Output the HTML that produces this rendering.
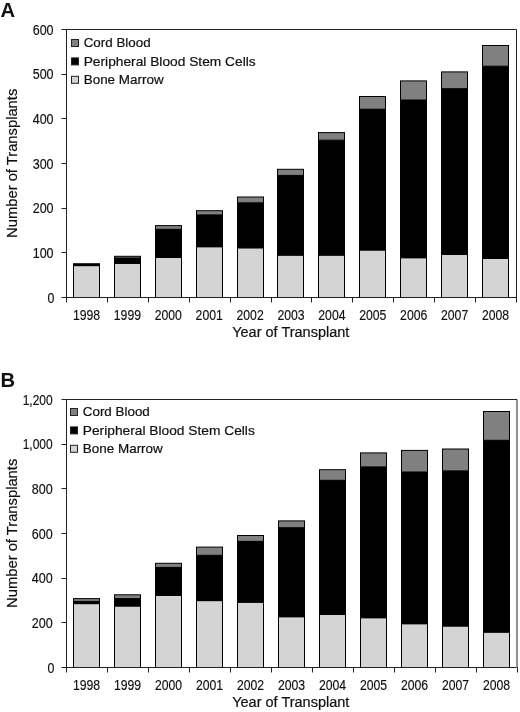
<!DOCTYPE html><html><head><meta charset="utf-8"><style>html,body{margin:0;padding:0;background:#fff;}svg{display:block;will-change:transform;}text{font-family:"Liberation Sans",sans-serif;fill:#111;}.v{stroke:#111;stroke-width:0.2px;}.n{stroke:#111;stroke-width:0.18px;}</style></head><body>
<svg width="520" height="712" viewBox="0 0 520 712">
<rect x="0" y="0" width="520" height="712" fill="#fff"/>
<text x="0.5" y="16.7" font-size="20.5" font-weight="bold" textLength="14.6" lengthAdjust="spacingAndGlyphs">A</text>
<rect x="73.5" y="265.6" width="26" height="31.90" fill="#d4d4d4" stroke="#000" stroke-width="1"/>
<rect x="73.5" y="263.75" width="26" height="1.85" fill="#000000" stroke="#000" stroke-width="1"/>
<rect x="114.5" y="263.3" width="26" height="34.20" fill="#d4d4d4" stroke="#000" stroke-width="1"/>
<rect x="114.5" y="258.0" width="26" height="5.30" fill="#000000" stroke="#000" stroke-width="1"/>
<rect x="114.5" y="256.3" width="26" height="1.70" fill="#808080" stroke="#000" stroke-width="1"/>
<rect x="155.5" y="257.5" width="26" height="40.00" fill="#d4d4d4" stroke="#000" stroke-width="1"/>
<rect x="155.5" y="229.3" width="26" height="28.20" fill="#000000" stroke="#000" stroke-width="1"/>
<rect x="155.5" y="225.6" width="26" height="3.70" fill="#808080" stroke="#000" stroke-width="1"/>
<rect x="196.5" y="246.7" width="26" height="50.80" fill="#d4d4d4" stroke="#000" stroke-width="1"/>
<rect x="196.5" y="214.9" width="26" height="31.80" fill="#000000" stroke="#000" stroke-width="1"/>
<rect x="196.5" y="210.7" width="26" height="4.20" fill="#808080" stroke="#000" stroke-width="1"/>
<rect x="237.5" y="247.8" width="26" height="49.70" fill="#d4d4d4" stroke="#000" stroke-width="1"/>
<rect x="237.5" y="202.8" width="26" height="45.00" fill="#000000" stroke="#000" stroke-width="1"/>
<rect x="237.5" y="197.0" width="26" height="5.80" fill="#808080" stroke="#000" stroke-width="1"/>
<rect x="277.5" y="255.1" width="26" height="42.40" fill="#d4d4d4" stroke="#000" stroke-width="1"/>
<rect x="277.5" y="175.4" width="26" height="79.70" fill="#000000" stroke="#000" stroke-width="1"/>
<rect x="277.5" y="169.3" width="26" height="6.10" fill="#808080" stroke="#000" stroke-width="1"/>
<rect x="318.5" y="255.1" width="26" height="42.40" fill="#d4d4d4" stroke="#000" stroke-width="1"/>
<rect x="318.5" y="140.2" width="26" height="114.90" fill="#000000" stroke="#000" stroke-width="1"/>
<rect x="318.5" y="132.6" width="26" height="7.60" fill="#808080" stroke="#000" stroke-width="1"/>
<rect x="359.5" y="250.0" width="26" height="47.50" fill="#d4d4d4" stroke="#000" stroke-width="1"/>
<rect x="359.5" y="109.2" width="26" height="140.80" fill="#000000" stroke="#000" stroke-width="1"/>
<rect x="359.5" y="96.5" width="26" height="12.70" fill="#808080" stroke="#000" stroke-width="1"/>
<rect x="400.5" y="257.7" width="26" height="39.80" fill="#d4d4d4" stroke="#000" stroke-width="1"/>
<rect x="400.5" y="100.0" width="26" height="157.70" fill="#000000" stroke="#000" stroke-width="1"/>
<rect x="400.5" y="80.9" width="26" height="19.10" fill="#808080" stroke="#000" stroke-width="1"/>
<rect x="441.5" y="254.4" width="26" height="43.10" fill="#d4d4d4" stroke="#000" stroke-width="1"/>
<rect x="441.5" y="88.7" width="26" height="165.70" fill="#000000" stroke="#000" stroke-width="1"/>
<rect x="441.5" y="71.9" width="26" height="16.80" fill="#808080" stroke="#000" stroke-width="1"/>
<rect x="482.5" y="258.4" width="26" height="39.10" fill="#d4d4d4" stroke="#000" stroke-width="1"/>
<rect x="482.5" y="66.2" width="26" height="192.20" fill="#000000" stroke="#000" stroke-width="1"/>
<rect x="482.5" y="45.5" width="26" height="20.70" fill="#808080" stroke="#000" stroke-width="1"/>
<path d="M66.5 29.5H516.5V297.5" fill="none" stroke="#222" stroke-width="1"/>
<path d="M66.5 29.5V297.5H516.5" fill="none" stroke="#222" stroke-width="1"/>
<path d="M61.5 297.5H66.5" stroke="#222" stroke-width="1"/>
<text x="54.5" y="302.7" class="n" font-size="15.2" text-anchor="end" textLength="6.9" lengthAdjust="spacingAndGlyphs">0</text>
<path d="M61.5 252.5H66.5" stroke="#222" stroke-width="1"/>
<text x="53.6" y="258.0" class="n" font-size="15.2" text-anchor="end" textLength="20.9" lengthAdjust="spacingAndGlyphs">100</text>
<path d="M61.5 208.5H66.5" stroke="#222" stroke-width="1"/>
<text x="53.6" y="213.4" class="n" font-size="15.2" text-anchor="end" textLength="20.9" lengthAdjust="spacingAndGlyphs">200</text>
<path d="M61.5 163.5H66.5" stroke="#222" stroke-width="1"/>
<text x="53.6" y="168.7" class="n" font-size="15.2" text-anchor="end" textLength="20.9" lengthAdjust="spacingAndGlyphs">300</text>
<path d="M61.5 118.5H66.5" stroke="#222" stroke-width="1"/>
<text x="53.6" y="124.0" class="n" font-size="15.2" text-anchor="end" textLength="20.9" lengthAdjust="spacingAndGlyphs">400</text>
<path d="M61.5 74.5H66.5" stroke="#222" stroke-width="1"/>
<text x="53.6" y="79.4" class="n" font-size="15.2" text-anchor="end" textLength="20.9" lengthAdjust="spacingAndGlyphs">500</text>
<path d="M61.5 29.5H66.5" stroke="#222" stroke-width="1"/>
<text x="53.6" y="34.7" class="n" font-size="15.2" text-anchor="end" textLength="20.9" lengthAdjust="spacingAndGlyphs">600</text>
<path d="M66.5 297V302.5" stroke="#222" stroke-width="1"/>
<path d="M107.5 297V302.5" stroke="#222" stroke-width="1"/>
<path d="M148.5 297V302.5" stroke="#222" stroke-width="1"/>
<path d="M189.5 297V302.5" stroke="#222" stroke-width="1"/>
<path d="M230.5 297V302.5" stroke="#222" stroke-width="1"/>
<path d="M271.5 297V302.5" stroke="#222" stroke-width="1"/>
<path d="M311.5 297V302.5" stroke="#222" stroke-width="1"/>
<path d="M352.5 297V302.5" stroke="#222" stroke-width="1"/>
<path d="M393.5 297V302.5" stroke="#222" stroke-width="1"/>
<path d="M434.5 297V302.5" stroke="#222" stroke-width="1"/>
<path d="M475.5 297V302.5" stroke="#222" stroke-width="1"/>
<path d="M516.5 297V302.5" stroke="#222" stroke-width="1"/>
<text x="86.5" y="320.2" class="n" font-size="15.5" text-anchor="middle" textLength="27.2" lengthAdjust="spacingAndGlyphs">1998</text>
<text x="127.4" y="320.2" class="n" font-size="15.5" text-anchor="middle" textLength="27.2" lengthAdjust="spacingAndGlyphs">1999</text>
<text x="168.3" y="320.2" class="n" font-size="15.5" text-anchor="middle" textLength="27.2" lengthAdjust="spacingAndGlyphs">2000</text>
<text x="209.2" y="320.2" class="n" font-size="15.5" text-anchor="middle" textLength="27.2" lengthAdjust="spacingAndGlyphs">2001</text>
<text x="250.1" y="320.2" class="n" font-size="15.5" text-anchor="middle" textLength="27.2" lengthAdjust="spacingAndGlyphs">2002</text>
<text x="291.0" y="320.2" class="n" font-size="15.5" text-anchor="middle" textLength="27.2" lengthAdjust="spacingAndGlyphs">2003</text>
<text x="331.9" y="320.2" class="n" font-size="15.5" text-anchor="middle" textLength="27.2" lengthAdjust="spacingAndGlyphs">2004</text>
<text x="372.8" y="320.2" class="n" font-size="15.5" text-anchor="middle" textLength="27.2" lengthAdjust="spacingAndGlyphs">2005</text>
<text x="413.7" y="320.2" class="n" font-size="15.5" text-anchor="middle" textLength="27.2" lengthAdjust="spacingAndGlyphs">2006</text>
<text x="454.6" y="320.2" class="n" font-size="15.5" text-anchor="middle" textLength="27.2" lengthAdjust="spacingAndGlyphs">2007</text>
<text x="495.5" y="320.2" class="n" font-size="15.5" text-anchor="middle" textLength="27.2" lengthAdjust="spacingAndGlyphs">2008</text>
<text x="232.2" y="336.7" class="v" font-size="13.8" textLength="117.2" lengthAdjust="spacingAndGlyphs">Year of Transplant</text>
<text transform="translate(16.8 237.9) rotate(-90)" x="0" y="0" class="v" font-size="13.8" textLength="149.2" lengthAdjust="spacingAndGlyphs">Number of Transplants</text>
<rect x="71.5" y="39.5" width="7" height="7" fill="#808080" stroke="#222" stroke-width="1"/>
<text x="83.7" y="47.1" class="v" font-size="12.8" textLength="67" lengthAdjust="spacingAndGlyphs">Cord Blood</text>
<rect x="71.5" y="57.9" width="7" height="7" fill="#000000" stroke="#222" stroke-width="1"/>
<text x="83.7" y="65.5" class="v" font-size="12.8" textLength="172" lengthAdjust="spacingAndGlyphs">Peripheral Blood Stem Cells</text>
<rect x="71.5" y="76.3" width="7" height="7" fill="#d4d4d4" stroke="#222" stroke-width="1"/>
<text x="83.7" y="83.9" class="v" font-size="12.8" textLength="80" lengthAdjust="spacingAndGlyphs">Bone Marrow</text>
<text x="0.5" y="386.7" font-size="20.5" font-weight="bold" textLength="14.6" lengthAdjust="spacingAndGlyphs">B</text>
<rect x="73.5" y="603.6" width="26" height="63.90" fill="#d4d4d4" stroke="#000" stroke-width="1"/>
<rect x="73.5" y="601.4" width="26" height="2.20" fill="#000000" stroke="#000" stroke-width="1"/>
<rect x="73.5" y="598.6" width="26" height="2.80" fill="#808080" stroke="#000" stroke-width="1"/>
<rect x="114.5" y="606.0" width="26" height="61.50" fill="#d4d4d4" stroke="#000" stroke-width="1"/>
<rect x="114.5" y="598.6" width="26" height="7.40" fill="#000000" stroke="#000" stroke-width="1"/>
<rect x="114.5" y="594.8" width="26" height="3.80" fill="#808080" stroke="#000" stroke-width="1"/>
<rect x="155.5" y="595.3" width="26" height="72.20" fill="#d4d4d4" stroke="#000" stroke-width="1"/>
<rect x="155.5" y="567.4" width="26" height="27.90" fill="#000000" stroke="#000" stroke-width="1"/>
<rect x="155.5" y="563.3" width="26" height="4.10" fill="#808080" stroke="#000" stroke-width="1"/>
<rect x="196.5" y="600.6" width="26" height="66.90" fill="#d4d4d4" stroke="#000" stroke-width="1"/>
<rect x="196.5" y="555.3" width="26" height="45.30" fill="#000000" stroke="#000" stroke-width="1"/>
<rect x="196.5" y="547.1" width="26" height="8.20" fill="#808080" stroke="#000" stroke-width="1"/>
<rect x="237.5" y="602.2" width="26" height="65.30" fill="#d4d4d4" stroke="#000" stroke-width="1"/>
<rect x="237.5" y="541.4" width="26" height="60.80" fill="#000000" stroke="#000" stroke-width="1"/>
<rect x="237.5" y="535.5" width="26" height="5.90" fill="#808080" stroke="#000" stroke-width="1"/>
<rect x="278.5" y="616.7" width="26" height="50.80" fill="#d4d4d4" stroke="#000" stroke-width="1"/>
<rect x="278.5" y="527.7" width="26" height="89.00" fill="#000000" stroke="#000" stroke-width="1"/>
<rect x="278.5" y="520.9" width="26" height="6.80" fill="#808080" stroke="#000" stroke-width="1"/>
<rect x="319.5" y="614.4" width="26" height="53.10" fill="#d4d4d4" stroke="#000" stroke-width="1"/>
<rect x="319.5" y="480.3" width="26" height="134.10" fill="#000000" stroke="#000" stroke-width="1"/>
<rect x="319.5" y="469.7" width="26" height="10.60" fill="#808080" stroke="#000" stroke-width="1"/>
<rect x="360.5" y="617.7" width="26" height="49.80" fill="#d4d4d4" stroke="#000" stroke-width="1"/>
<rect x="360.5" y="466.9" width="26" height="150.80" fill="#000000" stroke="#000" stroke-width="1"/>
<rect x="360.5" y="452.9" width="26" height="14.00" fill="#808080" stroke="#000" stroke-width="1"/>
<rect x="401.5" y="623.7" width="26" height="43.80" fill="#d4d4d4" stroke="#000" stroke-width="1"/>
<rect x="401.5" y="472.0" width="26" height="151.70" fill="#000000" stroke="#000" stroke-width="1"/>
<rect x="401.5" y="450.4" width="26" height="21.60" fill="#808080" stroke="#000" stroke-width="1"/>
<rect x="442.5" y="626.0" width="26" height="41.50" fill="#d4d4d4" stroke="#000" stroke-width="1"/>
<rect x="442.5" y="470.9" width="26" height="155.10" fill="#000000" stroke="#000" stroke-width="1"/>
<rect x="442.5" y="449.0" width="26" height="21.90" fill="#808080" stroke="#000" stroke-width="1"/>
<rect x="483.5" y="632.1" width="26" height="35.40" fill="#d4d4d4" stroke="#000" stroke-width="1"/>
<rect x="483.5" y="440.3" width="26" height="191.80" fill="#000000" stroke="#000" stroke-width="1"/>
<rect x="483.5" y="411.5" width="26" height="28.80" fill="#808080" stroke="#000" stroke-width="1"/>
<path d="M66.5 399.5H517V667.5" fill="none" stroke="#222" stroke-width="1"/>
<path d="M66.5 399.5V667.5H516.5" fill="none" stroke="#222" stroke-width="1"/>
<path d="M61.5 667.5H66.5" stroke="#222" stroke-width="1"/>
<text x="54.5" y="672.7" class="n" font-size="15.2" text-anchor="end" textLength="6.9" lengthAdjust="spacingAndGlyphs">0</text>
<path d="M61.5 622.5H66.5" stroke="#222" stroke-width="1"/>
<text x="52.7" y="628.0" class="n" font-size="15.2" text-anchor="end" textLength="20.9" lengthAdjust="spacingAndGlyphs">200</text>
<path d="M61.5 578.5H66.5" stroke="#222" stroke-width="1"/>
<text x="52.7" y="583.4" class="n" font-size="15.2" text-anchor="end" textLength="20.9" lengthAdjust="spacingAndGlyphs">400</text>
<path d="M61.5 533.5H66.5" stroke="#222" stroke-width="1"/>
<text x="52.7" y="538.7" class="n" font-size="15.2" text-anchor="end" textLength="20.9" lengthAdjust="spacingAndGlyphs">600</text>
<path d="M61.5 488.5H66.5" stroke="#222" stroke-width="1"/>
<text x="52.7" y="494.0" class="n" font-size="15.2" text-anchor="end" textLength="20.9" lengthAdjust="spacingAndGlyphs">800</text>
<path d="M61.5 444.5H66.5" stroke="#222" stroke-width="1"/>
<text x="52.7" y="449.4" class="n" font-size="15.2" text-anchor="end" textLength="30.0" lengthAdjust="spacingAndGlyphs">1,000</text>
<path d="M61.5 399.5H66.5" stroke="#222" stroke-width="1"/>
<text x="52.7" y="404.7" class="n" font-size="15.2" text-anchor="end" textLength="30.0" lengthAdjust="spacingAndGlyphs">1,200</text>
<path d="M66.5 667V672.5" stroke="#222" stroke-width="1"/>
<path d="M107.5 667V672.5" stroke="#222" stroke-width="1"/>
<path d="M148.5 667V672.5" stroke="#222" stroke-width="1"/>
<path d="M189.5 667V672.5" stroke="#222" stroke-width="1"/>
<path d="M230.5 667V672.5" stroke="#222" stroke-width="1"/>
<path d="M271.5 667V672.5" stroke="#222" stroke-width="1"/>
<path d="M312.5 667V672.5" stroke="#222" stroke-width="1"/>
<path d="M353.5 667V672.5" stroke="#222" stroke-width="1"/>
<path d="M394.5 667V672.5" stroke="#222" stroke-width="1"/>
<path d="M435.5 667V672.5" stroke="#222" stroke-width="1"/>
<path d="M476.5 667V672.5" stroke="#222" stroke-width="1"/>
<path d="M517.5 667V672.5" stroke="#222" stroke-width="1"/>
<text x="86.5" y="690.2" class="n" font-size="15.5" text-anchor="middle" textLength="27.2" lengthAdjust="spacingAndGlyphs">1998</text>
<text x="127.5" y="690.2" class="n" font-size="15.5" text-anchor="middle" textLength="27.2" lengthAdjust="spacingAndGlyphs">1999</text>
<text x="168.5" y="690.2" class="n" font-size="15.5" text-anchor="middle" textLength="27.2" lengthAdjust="spacingAndGlyphs">2000</text>
<text x="209.5" y="690.2" class="n" font-size="15.5" text-anchor="middle" textLength="27.2" lengthAdjust="spacingAndGlyphs">2001</text>
<text x="250.5" y="690.2" class="n" font-size="15.5" text-anchor="middle" textLength="27.2" lengthAdjust="spacingAndGlyphs">2002</text>
<text x="291.5" y="690.2" class="n" font-size="15.5" text-anchor="middle" textLength="27.2" lengthAdjust="spacingAndGlyphs">2003</text>
<text x="332.5" y="690.2" class="n" font-size="15.5" text-anchor="middle" textLength="27.2" lengthAdjust="spacingAndGlyphs">2004</text>
<text x="373.5" y="690.2" class="n" font-size="15.5" text-anchor="middle" textLength="27.2" lengthAdjust="spacingAndGlyphs">2005</text>
<text x="414.5" y="690.2" class="n" font-size="15.5" text-anchor="middle" textLength="27.2" lengthAdjust="spacingAndGlyphs">2006</text>
<text x="455.5" y="690.2" class="n" font-size="15.5" text-anchor="middle" textLength="27.2" lengthAdjust="spacingAndGlyphs">2007</text>
<text x="496.5" y="690.2" class="n" font-size="15.5" text-anchor="middle" textLength="27.2" lengthAdjust="spacingAndGlyphs">2008</text>
<text x="232.2" y="706.7" class="v" font-size="13.8" textLength="117.2" lengthAdjust="spacingAndGlyphs">Year of Transplant</text>
<text transform="translate(16.8 607.9) rotate(-90)" x="0" y="0" class="v" font-size="13.8" textLength="149.2" lengthAdjust="spacingAndGlyphs">Number of Transplants</text>
<rect x="70.5" y="408.5" width="7" height="7" fill="#808080" stroke="#222" stroke-width="1"/>
<text x="82.8" y="416.1" class="v" font-size="12.8" textLength="67" lengthAdjust="spacingAndGlyphs">Cord Blood</text>
<rect x="70.5" y="426.9" width="7" height="7" fill="#000000" stroke="#222" stroke-width="1"/>
<text x="82.8" y="434.5" class="v" font-size="12.8" textLength="172" lengthAdjust="spacingAndGlyphs">Peripheral Blood Stem Cells</text>
<rect x="70.5" y="445.3" width="7" height="7" fill="#d4d4d4" stroke="#222" stroke-width="1"/>
<text x="82.8" y="452.9" class="v" font-size="12.8" textLength="80" lengthAdjust="spacingAndGlyphs">Bone Marrow</text>
</svg></body></html>
